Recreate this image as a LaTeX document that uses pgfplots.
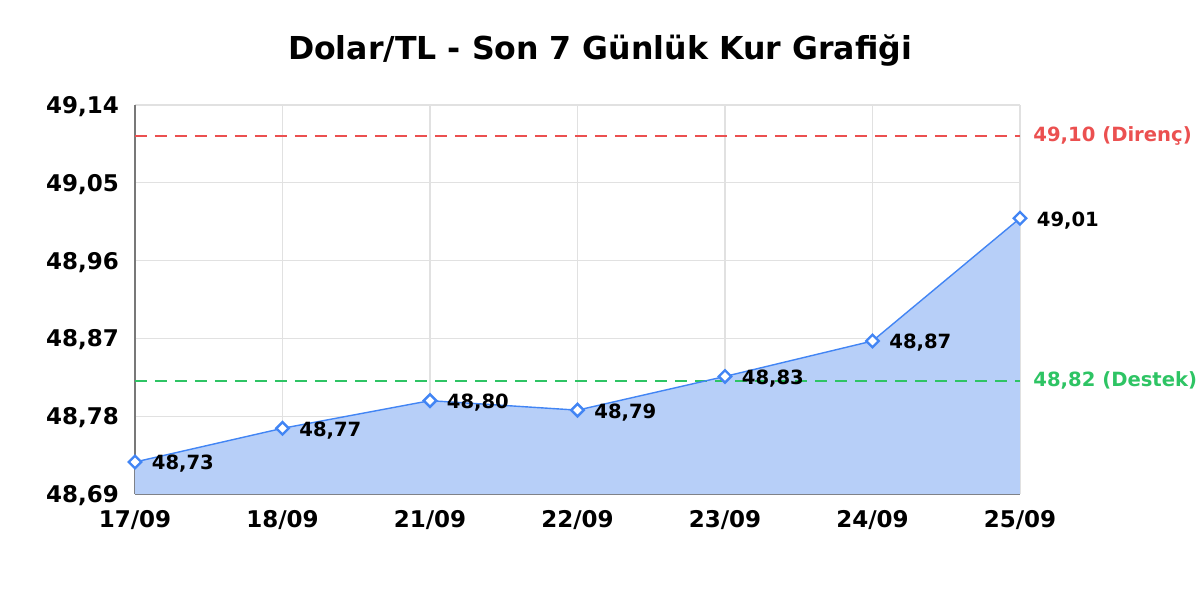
\documentclass[border=0pt]{standalone}
\usepackage{pgfplots}
\pgfplotsset{compat=1.18}
\usepackage{fontspec}
\setmainfont{DejaVu Sans}
\definecolor{lineblue}{RGB}{66,133,244}
\definecolor{fillblue}{RGB}{183,207,248}
\definecolor{resred}{RGB}{235,80,80}
\definecolor{supgreen}{RGB}{46,196,100}
\definecolor{gridgray}{RGB}{225,225,225}
\definecolor{axisgray}{RGB}{120,120,120}
\begin{document}
\begin{tikzpicture}[x=1pt,y=1pt]
% 1200x600 px at 0.5pt per px; axis box lower left at px (135,494)
\useasboundingbox (-67.5,-53) rectangle (532.5,247);
\begin{axis}[
  at={(0,0)}, anchor=south west,
  scale only axis,
  width=442.5pt, height=194.5pt,
  xmin=0, xmax=6,
  ymin=48.69, ymax=49.14,
  xtick={0,1,2,3,4,5,6},
  xticklabels={17/09,18/09,21/09,22/09,23/09,24/09,25/09},
  ytick={48.69,48.78,48.87,48.96,49.05,49.14},
  yticklabels={{48,69},{48,78},{48,87},{48,96},{49,05},{49,14}},
  tick label style={font=\fontsize{11.5}{13}\selectfont\bfseries, text=black},
  xticklabel style={yshift=-4.5pt},
  yticklabel style={xshift=-4.5pt, yshift=-0.8pt},
  major tick length=0pt,
  grid=major,
  major grid style={draw=gridgray, line width=0.6pt},
  axis lines*=left,
  axis line style={draw=axisgray, line width=0.7pt, -},
  clip=false,
]
\addplot[draw=none, fill=fillblue] coordinates {
  (0,48.727) (1,48.766) (2,48.798) (3,48.787) (4,48.826) (5,48.867) (6,49.009)
} \closedcycle;
\addplot[resred, dash pattern=on 6pt off 4pt, line width=0.8pt]
  coordinates {(0,49.104) (6,49.104)}
  node[pos=1, right, xshift=3pt, font=\fontsize{9.8}{11}\selectfont\bfseries, text=resred] {49,10 (Direnç)};
\addplot[supgreen, dash pattern=on 6pt off 4pt, line width=0.8pt]
  coordinates {(0,48.821) (6,48.821)}
  node[pos=1, right, xshift=3pt, font=\fontsize{9.8}{11}\selectfont\bfseries, text=supgreen] {48,82 (Destek)};
\addplot[lineblue, line width=0.7pt, mark=square*, mark size=2.2pt,
  mark options={fill=white, draw=lineblue, line width=1.2pt, rotate=45},
  point meta=explicit symbolic,
  nodes near coords,
  nodes near coords style={anchor=west, xshift=4.5pt, yshift=-1pt, rotate=0,
    font=\fontsize{9.8}{11}\selectfont\bfseries, text=black},
] coordinates {
  (0,48.727) [48,73]
  (1,48.766) [48,77]
  (2,48.798) [48,80]
  (3,48.787) [48,79]
  (4,48.826) [48,83]
  (5,48.867) [48,87]
  (6,49.009) [49,01]
};
\end{axis}
\node[font=\fontsize{15.8}{18}\selectfont\bfseries] at (232.5,221.5) {Dolar/TL - Son 7 Günlük Kur Grafiği};
\end{tikzpicture}
\end{document}
